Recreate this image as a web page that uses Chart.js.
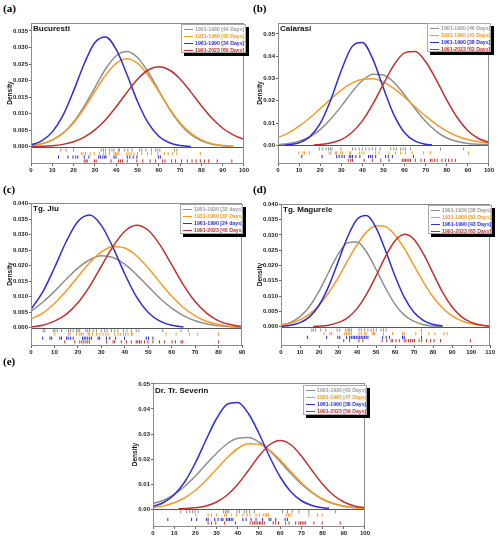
<!DOCTYPE html>
<html>
<head>
<meta charset="utf-8">
<script src="https://cdn.jsdelivr.net/npm/chart.js@4.4.0/dist/chart.umd.min.js"></script>
<style>
body { margin: 0; background: #fff; width: 500px; height: 539px; position: relative; overflow: hidden; font-family: "Liberation Sans", Arial, sans-serif; }
.pl { position: absolute; font: bold 11px "Liberation Serif", "DejaVu Serif", serif; color: #000; line-height: 1; }
.cv { position: absolute; }
.ttl { position: absolute; font-weight: bold; font-size: 8px; color: #111; line-height: 1; white-space: nowrap; }
.lg { position: absolute; background: #fff; border: 1px solid #aaa; box-shadow: 3px 3px 0 #000; font-weight: bold; font-size: 5.2px; box-sizing: border-box; padding: 1px 0 0 2px; overflow: hidden; }
.lg div { height: 7px; line-height: 7px; white-space: nowrap; }
.lg span { display: inline-block; width: 9px; height: 0; border-top: 1.4px solid; vertical-align: middle; margin-right: 2px; }
</style>
</head>
<body>
<script>
// couleurs des periodes
const colors = ['#8f8f8f', '#f59b25', '#2d2ddb', '#c0312e'];
const textColors = ['#9a9a9a', '#f59b25', '#2d2ddb', '#c0312e'];

// ---- (a) Bucuresti ----
const xA = [0, 5, 10, 15, 20, 25, 30, 35, 40, 45, 50, 55, 60, 65, 70, 75, 80, 85, 90, 95, 100];
const grayA = [0.00035, 0.00088, 0.0020, 0.0041, 0.0075, 0.0123, 0.0179, 0.0235, 0.0275, 0.0288, 0.0270, 0.0226, 0.0170, 0.0114, 0.0069, 0.0037, 0.0018, 0.00077, 0.00029, 0.0001];
const orangeA = [0.00039, 0.00095, 0.0021, 0.0041, 0.0072, 0.0116, 0.0167, 0.0216, 0.0252, 0.0266, 0.0252, 0.0216, 0.0167, 0.0116, 0.0072, 0.0041, 0.0021, 0.00095, 0.00039, 0.00015];
const blueA = [0.0006, 0.0018, 0.0045, 0.0095, 0.0169, 0.0251, 0.0315, 0.0332, 0.0294, 0.0219, 0.0137, 0.0072, 0.0032, 0.0012, 0.00037, 0.0001];
const redA = [0.00005, 0.00013, 0.00032, 0.00073, 0.0015, 0.0029, 0.0051, 0.0082, 0.0121, 0.0164, 0.0204, 0.0232, 0.0242, 0.0232, 0.0205, 0.0166, 0.0124, 0.0086, 0.0056, 0.0036, 0.0022];
const rugGrayA = [14, 16.5, 20, 33, 34, 35, 36.8, 38, 39, 41, 41.5, 44, 45.5, 47.4, 51, 52, 54, 56.5, 58.5, 59.5, 60.5, 67.4, 68.5];
const rugOrangeA = [23.6, 24.4, 25.6, 27.8, 29.7, 32.1, 34, 35, 36.8, 39, 39.7, 40.4, 41.2, 45, 46, 47, 48.4, 50, 52, 54.7, 56.5, 59.5, 62.6, 64.4, 66.5, 68.5, 79.5];
const rugBlueA = [12.9, 17.4, 19.7, 21, 22, 25, 27.2, 31.8, 32.6, 33.7, 34.6, 35.2, 39, 39.9, 45.2, 46.4, 48, 49.7, 59.8, 60.7];
const rugRedA = [25, 25.8, 26.4, 29.8, 30.6, 37.6, 41.1, 42, 43, 45.2, 49.7, 52.5, 55.9, 58.5, 61.8, 62.9, 66, 67.9, 70.7, 73.4, 75.6, 77.5, 79.5, 81.5, 83.4, 87.4, 94.3];
const legendA = ['1901-1930 [44 Days]', '1931-1960 [45 Days]', '1961-1990 [34 Days]', '1991-2023 [60 Days]'];

// ---- (b) Calarasi ----
const xB = [0, 5, 10, 15, 20, 25, 30, 35, 40, 45, 50, 55, 60, 65, 70, 75, 80, 85, 90, 95, 100];
const grayB = [0.00033, 0.00082, 0.0019, 0.0038, 0.0071, 0.0118, 0.0176, 0.0239, 0.0291, 0.0319, 0.0316, 0.0282, 0.0226, 0.0164, 0.0107, 0.0063, 0.0033, 0.0017, 0.0009, 0.0005, 0.0003];
const orangeB = [0.0035, 0.0056, 0.0086, 0.0123, 0.0165, 0.0208, 0.0248, 0.0279, 0.0297, 0.0299, 0.0284, 0.0255, 0.0216, 0.0173, 0.0131, 0.0094, 0.0064, 0.0041, 0.0026, 0.0016, 0.0010];
const xBlueB = [3, 5, 10, 15, 20, 25, 30, 35, 40, 45, 50, 55, 60, 65, 70, 73];
const blueB = [0.00015, 0.00029, 0.0012, 0.0038, 0.0099, 0.0204, 0.0336, 0.0442, 0.0462, 0.0386, 0.0256, 0.0136, 0.0057, 0.0019, 0.00052, 0.00021];
const xRedB = [17, 20, 25, 30, 35, 40, 45, 50, 55, 60, 65, 70, 75, 80, 85, 90, 95, 100];
const redB = [0.00019, 0.00038, 0.0011, 0.0026, 0.0058, 0.011, 0.0186, 0.0276, 0.0361, 0.0415, 0.0421, 0.0375, 0.0294, 0.0203, 0.0124, 0.0066, 0.0031, 0.0013];
const rugGrayB = [19.6, 21.2, 22.8, 23.9, 24.8, 25.6, 29.8, 35.3, 36.6, 38.5, 40, 41.6, 43.2, 44.7, 46.3, 48.4, 53.4, 54.9, 56.2, 58.1, 59.3, 60.4, 62.8, 77, 88];
const rugOrangeB = [9.9, 11.8, 12.6, 14.9, 24.3, 25.1, 27.2, 27.8, 29.8, 30.6, 33.8, 34.5, 38.5, 39.7, 40.8, 46.3, 47.9, 52.6, 55.7, 58.1, 60.4, 63.6, 69, 72.2, 90.3];
const rugBlueB = [11.3, 20.9, 27.8, 29, 30.3, 31.4, 33.8, 34.5, 35.3, 36.9, 38.8, 42.9, 43.8, 44.7, 46.3, 51, 52.3, 54.2, 64.2];
const rugRedB = [33.3, 34.5, 35.3, 40.8, 44.7, 48.7, 52.6, 58.9, 59.7, 60.4, 61.2, 62, 62.8, 65.1, 67.8, 69.4, 72.2, 73, 74.1, 75.4, 77.7, 79.3, 80.8, 82.4, 84];
const legendB = ['1901-1930 [46 Days]', '1931-1960 [43 Days]', '1961-1990 [38 Days]', '1991-2023 [63 Days]'];

// ---- (c) Tg. Jiu ----
const xC = [0, 5, 10, 15, 20, 25, 30, 35, 40, 45, 50, 55, 60, 65, 70, 75, 80, 85, 90];
const grayC = [0.0053, 0.0082, 0.0117, 0.0156, 0.0192, 0.0219, 0.0232, 0.0226, 0.0205, 0.0171, 0.0133, 0.0095, 0.0063, 0.0039, 0.0022, 0.0012, 0.00057, 0.00026, 0.00011];
const orangeC = [0.0028, 0.0047, 0.0078, 0.0118, 0.0164, 0.0209, 0.0244, 0.0262, 0.0257, 0.0232, 0.0192, 0.0146, 0.0101, 0.0065, 0.0038, 0.0020, 0.0010, 0.00045, 0.00019];
const blueC = [0.0059, 0.0115, 0.0193, 0.0277, 0.0342, 0.0363, 0.0330, 0.0258, 0.0173, 0.0099, 0.0049, 0.0021, 0.00076, 0.00024];
const redC = [0.00025, 0.0008, 0.0021, 0.0043, 0.0080, 0.0133, 0.0198, 0.0262, 0.0311, 0.0330, 0.0314, 0.0267, 0.0203, 0.0138, 0.0084, 0.0046, 0.0022, 0.00098, 0.00038];
const rugGrayC = [5.2, 5.9, 9.5, 10.2, 11.2, 13, 16, 16.9, 18, 19.4, 20.1, 20.8, 23.4, 24.2, 25, 26.5, 27.9, 30, 31.4, 32.4, 34.3, 35.7, 37.1, 39.5, 40.9, 42.8, 44.9, 46, 56.2, 64, 67.1];
const rugOrangeC = [10.2, 15.9, 16.6, 19.4, 20.8, 21.5, 22.2, 24.4, 25, 26.2, 27.9, 29.3, 30.7, 31.9, 32.9, 35.7, 37.1, 38.1, 39.5, 40.4, 41.4, 42.8, 43.2, 57.6, 61.9, 67.6, 71.1, 80];
const rugBlueC = [5, 8.1, 8.8, 12.3, 13, 15.2, 15.9, 16.9, 18, 22, 22.7, 23.4, 24.2, 25, 25.8, 28.6, 29.3, 32.2, 33.6, 36.1, 39.9, 49.2, 50.1, 52];
const rugRedC = [14.4, 18.7, 20.8, 21.7, 22.5, 23.4, 24.2, 25, 32.2, 35, 35.7, 38.5, 40.7, 42.8, 44.9, 45.6, 46.3, 47, 48.4, 49.9, 52, 54.8, 56.9, 60.2, 61.6, 64, 64.7, 80];
const legendC = ['1901-1930 [32 days]', '1931-1960 [37 Days]', '1961-1990 [24 days]', '1991-2023 [45 Days]'];

// ---- (d) Tg. Magurele ----
const xD = [0, 5, 10, 15, 20, 25, 30, 35, 40, 45, 50, 55, 60, 65, 70, 75, 80, 85, 90, 95, 100, 105, 110];
const grayD = [0.00054, 0.0014, 0.0033, 0.0066, 0.0116, 0.0177, 0.0236, 0.0274, 0.0277, 0.0244, 0.0187, 0.0126, 0.0073, 0.0037, 0.0017, 0.00064, 0.00022, 0.00006];
const orangeD = [0.00053, 0.0011, 0.0022, 0.0041, 0.0070, 0.0110, 0.0159, 0.0215, 0.0268, 0.0309, 0.0330, 0.0327, 0.0299, 0.0254, 0.0199, 0.0145, 0.0097, 0.0061, 0.0035, 0.0019, 0.00092, 0.00042, 0.00018];
const blueD = [0.00013, 0.00045, 0.0013, 0.0032, 0.0070, 0.0131, 0.0211, 0.0293, 0.0351, 0.0363, 0.0323, 0.0248, 0.0165, 0.0094, 0.0046, 0.0020, 0.00072, 0.00023];
const xRedD = [17, 20, 25, 30, 35, 40, 45, 50, 55, 60, 65, 70, 75, 80, 85, 90, 95, 100, 105, 110];
const redD = [0.00008, 0.00016, 0.00048, 0.0013, 0.0029, 0.0059, 0.0106, 0.0166, 0.0230, 0.0281, 0.0302, 0.0285, 0.0237, 0.0174, 0.0112, 0.0064, 0.0032, 0.0014, 0.00054, 0.00018];
const rugGrayD = [16.2, 17, 18.2, 20.9, 23.6, 29.5, 30.9, 34.1, 35.3, 36.1, 37, 41, 42.2, 44, 45.7, 47.4, 48.7, 50.1, 52.6, 53.9, 55.3, 73.9];
const rugOrangeD = [22.6, 25.7, 26.6, 33.5, 34.4, 35.3, 36.1, 37, 41, 42.2, 44, 44.8, 48, 48.7, 49.3, 53.9, 58.7, 63.9, 64.8, 70.9, 74, 77.8, 81, 85.7, 87.4];
const rugBlueD = [13.9, 24, 29.9, 30.9, 34.4, 36.1, 37, 37.9, 38.7, 39.6, 40.5, 41.4, 42.2, 43.1, 44, 44.8, 45.7, 53.5, 55.3, 57, 63.9, 64.8, 73.9];
const rugRedD = [33, 36.1, 41, 43.1, 53.2, 55.6, 57.9, 58.7, 60.5, 62.2, 64.8, 65.7, 67.1, 68.1, 69.2, 70.2, 72.6, 74, 76.5, 78.7, 80.5, 83.9, 99.6];
const legendD = ['1901-1930 [38 Days]', '1931-1960 [52 Days]', '1961-1990 [43 Days]', '1991-2023 [65 Days]'];

// ---- (e) Dr. Tr. Severin ----
const xE = [0, 5, 10, 15, 20, 25, 30, 35, 40, 45, 50, 55, 60, 65, 70, 75, 80, 85, 90, 95, 100];
const grayE = [0.0022, 0.0035, 0.0058, 0.0091, 0.0132, 0.0178, 0.0223, 0.0261, 0.0283, 0.0286, 0.0268, 0.0233, 0.0189, 0.0142, 0.0100, 0.0065, 0.0039, 0.0022, 0.0012, 0.00056, 0.00025];
const orangeE = [0.00058, 0.0012, 0.0025, 0.0045, 0.0075, 0.0114, 0.0160, 0.0205, 0.0242, 0.0261, 0.0259, 0.0235, 0.0196, 0.0150, 0.0105, 0.0068, 0.0040, 0.0022, 0.0011, 0.00049, 0.0002];
const xBlueE = [0, 5, 10, 15, 20, 25, 30, 35, 40, 45, 50, 55, 60, 65, 70, 75, 80, 83];
const blueE = [0.0010, 0.0026, 0.0057, 0.0109, 0.0185, 0.0276, 0.0362, 0.0419, 0.0426, 0.0382, 0.0302, 0.0209, 0.0128, 0.0069, 0.0033, 0.0014, 0.0005, 0.00026];
const xRedE = [12, 15, 20, 25, 30, 35, 40, 45, 50, 55, 60, 65, 70, 75, 80, 85, 90, 95, 100];
const redE = [0.00008, 0.00016, 0.00046, 0.0012, 0.0028, 0.0056, 0.0099, 0.0154, 0.0212, 0.0257, 0.0274, 0.0257, 0.0212, 0.0154, 0.0099, 0.0056, 0.0028, 0.0012, 0.00046];
const rugGrayE = [13.1, 15.9, 17.4, 18.7, 19.8, 21.3, 33.3, 34.3, 35, 35.8, 39.6, 40.8, 43.1, 44.2, 45.5, 47.8, 61.1, 63.4, 65.7, 68.8, 73.5, 86];
const rugOrangeE = [20.2, 26, 27.6, 29.9, 33.8, 34.6, 36.9, 39.3, 42.4, 44.4, 45.8, 48.6, 50.2, 52, 52.9, 53.6, 54.5, 62.9, 63.9, 65, 73.5, 77.6, 79.8];
const rugBlueE = [7, 18.2, 20.6, 25.2, 26, 29.1, 30.7, 32.2, 33, 34.6, 35.4, 36.1, 36.9, 37.7, 42.4, 43.9, 46.3, 48.6, 51.7, 54.8, 55.6, 57.9, 62.3, 63.4];
const rugRedE = [26, 27.6, 29.6, 33.8, 38.9, 45.8, 47, 47.8, 48.6, 49.4, 50.2, 50.9, 51.7, 52.5, 56.7, 57.9, 59.2, 62.6, 64.2, 67.3, 68.8, 69.6, 70.4, 71.2, 72, 75.9, 79.8, 88.3];
const legendE = ['1901-1930 [43 Days]', '1931-1960 [47 Days]', '1961-1990 [38 Days]', '1991-2023 [59 Days]'];

// graduations
const xTicks100 = [0, 10, 20, 30, 40, 50, 60, 70, 80, 90, 100];
const xTicks90 = [0, 10, 20, 30, 40, 50, 60, 70, 80, 90];
const xTicks110 = [0, 10, 20, 30, 40, 50, 60, 70, 80, 90, 100, 110];
const yTicks35 = [0, 0.005, 0.010, 0.015, 0.020, 0.025, 0.030, 0.035];
const yTicks40 = [0, 0.005, 0.010, 0.015, 0.020, 0.025, 0.030, 0.035, 0.040];
const yTicks05 = [0, 0.01, 0.02, 0.03, 0.04, 0.05];

function zip(xs, ys) { return ys.map((y, i) => ({ x: xs[i], y: y })); }

const panels = [
    { label: '(a)', labelPos: [3, 3], title: 'Bucuresti', titlePos: [33, 25], densX: 10,
      area: { l: 31, t: 23, r: 246, b: 163 }, yMin: -0.0049, yMax: 0.0374, yTicks: yTicks35, dec: 3, xTicks: xTicks100,
      curves: [[xA, grayA], [xA, orangeA], [xA, blueA], [xA, redA]],
      rugs: [rugGrayA, rugOrangeA, rugBlueA, rugRedA], rugY: [-0.001, -0.0021, -0.0031, -0.0043],
      legend: legendA, lgBox: [181, 24, 65, 29] },
    { label: '(b)', labelPos: [253, 3], title: 'Calarasi', titlePos: [280, 25], densX: 260,
      area: { l: 278, t: 23, r: 491, b: 163 }, yMin: -0.0079, yMax: 0.0549, yTicks: yTicks05, dec: 2, xTicks: xTicks100,
      curves: [[xB, grayB], [xB, orangeB], [xBlueB, blueB], [xRedB, redB]],
      rugs: [rugGrayB, rugOrangeB, rugBlueB, rugRedB], rugY: [-0.0016, -0.0034, -0.005, -0.0067],
      legend: legendB, lgBox: [427, 23, 64, 29] },
    { label: '(c)', labelPos: [3, 184], title: 'Tg. Jiu', titlePos: [33, 205], densX: 10,
      area: { l: 31, t: 203, r: 243, b: 345 }, yMin: -0.0056, yMax: 0.0402, yTicks: yTicks40, dec: 3, xTicks: xTicks90,
      curves: [[xC, grayC], [xC, orangeC], [xC, blueC], [xC, redC]],
      rugs: [rugGrayC, rugOrangeC, rugBlueC, rugRedC], rugY: [-0.001, -0.0021, -0.0034, -0.0046],
      legend: legendC, lgBox: [180, 204, 63, 30] },
    { label: '(d)', labelPos: [253, 184], title: 'Tg. Magurele', titlePos: [283, 206], densX: 260,
      area: { l: 281, t: 204, r: 492, b: 345 }, yMin: -0.006, yMax: 0.0401, yTicks: yTicks40, dec: 3, xTicks: xTicks110,
      curves: [[xD, grayD], [xD, orangeD], [xD, blueD], [xRedD, redD]],
      rugs: [rugGrayD, rugOrangeD, rugBlueD, rugRedD], rugY: [-0.0011, -0.0023, -0.0035, -0.0046],
      legend: legendD, lgBox: [428, 205, 64, 29] },
    { label: '(e)', labelPos: [3, 356], title: 'Dr. Tr. Severin', titlePos: [155, 387], densX: 135,
      area: { l: 153, t: 383, r: 367, b: 526 }, yMin: -0.0068, yMax: 0.0504, yTicks: yTicks05, dec: 2, xTicks: xTicks100,
      curves: [[xE, grayE], [xE, orangeE], [xBlueE, blueE], [xRedE, redE]],
      rugs: [rugGrayE, rugOrangeE, rugBlueE, rugRedE], rugY: [-0.0011, -0.0024, -0.0042, -0.0056],
      legend: legendE, lgBox: [303, 385, 64, 30] }
];

// cadre gris + ligne du zero
const framePlugin = {
    id: 'frame',
    beforeDatasetsDraw(chart) {
        const { ctx, chartArea: a, scales: { y } } = chart;
        const y0 = Math.round(y.getPixelForValue(0)) + 0.5;
        ctx.save();
        ctx.strokeStyle = '#555';
        ctx.lineWidth = 1;
        ctx.beginPath(); ctx.moveTo(a.left, y0); ctx.lineTo(a.right, y0); ctx.stroke();
        ctx.restore();
    },
    afterDraw(chart) {
        const { ctx, chartArea: a } = chart;
        ctx.save();
        ctx.strokeStyle = '#8c8c8c';
        ctx.lineWidth = 1;
        ctx.strokeRect(Math.round(a.left) + 0.5, Math.round(a.top) + 0.5, Math.round(a.right - a.left) - 1, Math.round(a.bottom - a.top));
        ctx.restore();
    }
};

Chart.defaults.font.family = '"Liberation Sans", Arial, sans-serif';

function addDiv(cls, x, y, html) {
    const d = document.createElement('div');
    d.className = cls;
    d.style.left = x + 'px'; d.style.top = y + 'px';
    d.innerHTML = html;
    document.body.appendChild(d);
    return d;
}

function drawPanel(p) {
    const left = p.densX - 5, top = p.area.t - 8;
    const w = p.area.r + 4 - left, h = p.area.b + 18 - top;
    const cv = document.createElement('canvas');
    cv.className = 'cv';
    cv.width = w; cv.height = h;
    cv.style.left = left + 'px'; cv.style.top = top + 'px';
    cv.style.width = w + 'px'; cv.style.height = h + 'px';
    document.body.appendChild(cv);

    const datasets = [];
    p.curves.forEach((c, i) => {
        datasets.push({
            data: zip(c[0], c[1]),
            borderColor: colors[i], borderWidth: 1.5,
            pointRadius: 0, cubicInterpolationMode: 'monotone', fill: false,
            order: 4 - i
        });
    });
    p.rugs.forEach((r, i) => {
        datasets.push({
            data: r.map(x => ({ x: x, y: p.rugY[i] })),
            showLine: false, pointStyle: 'line', rotation: 90, pointRadius: 1.6,
            borderColor: colors[i], pointBorderColor: colors[i], pointBorderWidth: 1,
            order: 10
        });
    });

    new Chart(cv, {
        type: 'line',
        data: { datasets: datasets },
        plugins: [framePlugin],
        options: {
            responsive: false, animation: false, devicePixelRatio: 1,
            layout: { padding: { top: 8, right: 4, left: 0, bottom: 0 } },
            plugins: { legend: { display: false }, tooltip: { enabled: false } },
            scales: {
                x: {
                    type: 'linear', min: 0, max: p.xTicks[p.xTicks.length - 1],
                    afterBuildTicks: a => { a.ticks = p.xTicks.map(v => ({ value: v })); },
                    afterFit: a => { a.height = 18; },
                    border: { display: false },
                    grid: { drawOnChartArea: false, tickLength: 3, tickColor: '#666' },
                    ticks: { autoSkip: false, maxRotation: 0, padding: 1, color: '#222', font: { size: 6, weight: 'bold' } }
                },
                y: {
                    min: p.yMin, max: p.yMax,
                    afterBuildTicks: a => { a.ticks = p.yTicks.map(v => ({ value: v })); },
                    afterFit: a => { a.width = p.area.l - left; },
                    border: { display: false },
                    grid: { drawOnChartArea: false, tickLength: 2, tickColor: '#666' },
                    ticks: { autoSkip: false, padding: 1, color: '#222', font: { size: 6, weight: 'bold' },
                             callback: v => v.toFixed(p.dec) },
                    title: { display: true, text: 'Density', color: '#111', padding: { top: 1, bottom: 0 },
                             font: { size: 6.5, weight: 'bold' } }
                }
            }
        }
    });

    addDiv('pl', p.labelPos[0], p.labelPos[1], p.label);
    addDiv('ttl', p.titlePos[0], p.titlePos[1], p.title);
    const rows = p.legend.map((t, i) =>
        `<div style="color:${textColors[i]}"><span style="border-color:${colors[i]}"></span>${t}</div>`).join('');
    const lg = addDiv('lg', p.lgBox[0], p.lgBox[1], rows);
    lg.style.width = p.lgBox[2] + 'px';
    lg.style.height = p.lgBox[3] + 'px';
}

panels.forEach(drawPanel);
</script>
</body>
</html>
